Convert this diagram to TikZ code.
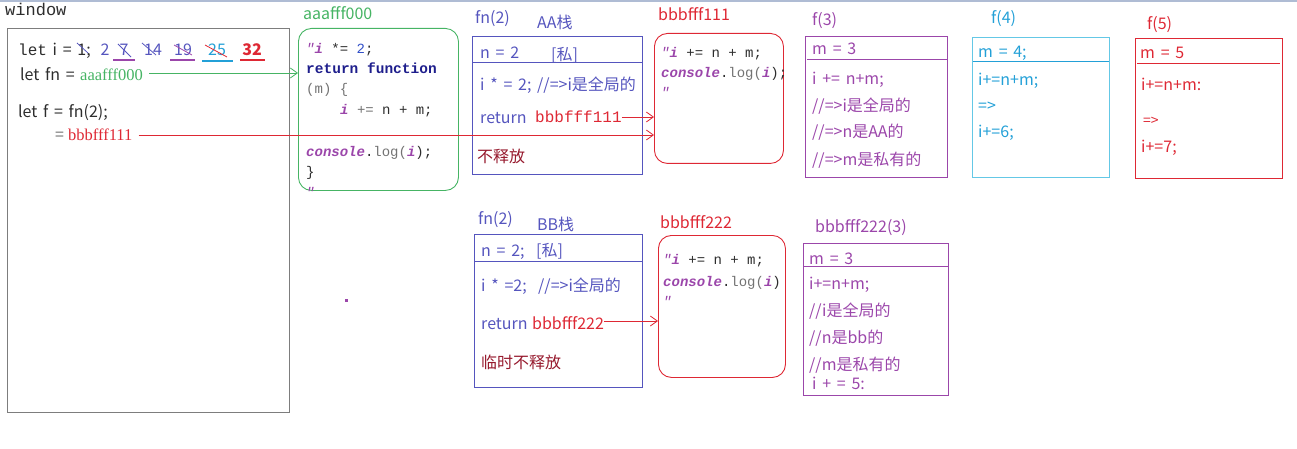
\documentclass[tikz,border=0pt]{standalone}
\usepackage{fontspec}
\setmainfont{Noto Sans CJK SC}
\newfontfamily\csans[WordSpace=1.6]{Noto Sans CJK SC}
\newfontfamily\cmono{Liberation Mono}
\newfontfamily\cser{Liberation Serif}
\usetikzlibrary{arrows.meta}
\definecolor{topline}{RGB}{175,188,212}
\definecolor{wgrey}{RGB}{125,125,125}
\definecolor{ink}{RGB}{45,45,45}
\definecolor{bv}{RGB}{85,85,190}
\definecolor{purp}{RGB}{155,70,170}
\definecolor{cyanc}{RGB}{35,160,215}
\definecolor{cyanbox}{RGB}{100,200,230}
\definecolor{redc}{RGB}{222,40,52}
\definecolor{maroon}{RGB}{150,25,45}
\definecolor{greenc}{RGB}{70,180,100}
\definecolor{navy}{RGB}{30,30,140}
\definecolor{cgrey}{RGB}{115,115,115}
\definecolor{cblue}{RGB}{50,80,200}
\tikzset{
  txt/.style={anchor=base west, inner sep=0, font=\csans\fontsize{16}{16}\selectfont},
  code/.style={anchor=base west, inner sep=0, font=\cmono\fontsize{14}{14}\selectfont, text=ink},
  num/.style={anchor=base, inner sep=0, font=\csans\fontsize{16}{16}\selectfont},
  box/.style={draw, inner sep=0, anchor=north west, line width=0.9pt},
  rbox/.style={box, rounded corners=13pt},
  arr/.style={line width=0.8pt, -{Straight Barb[length=7pt,width=10pt]}},
  strike/.style={line width=0.8pt}
}
\newcommand{\ci}{{\bfseries\itshape\color{purp}i}}
\newcommand{\cq}{{\itshape\color{purp}"}}
\begin{document}
\begin{tikzpicture}[x=1pt,y=-1pt]
\useasboundingbox (0,0) rectangle (1297,449);
\draw[topline, line width=2pt] (0,1) -- (1297,1);

% window
\node[anchor=base west, inner sep=0, font=\cmono\fontsize{17}{17}\selectfont, text=ink] (wlabel) at (5,16) {window};
\node[box, draw=wgrey, line width=1.4pt, minimum width=282pt, minimum height=384pt] (win) at (7,28) {};
\node[txt, text=ink] (leti) at (18,56) {{\cmono let} i = 1;};
\node[num, text=bv] (n2) at (105,56) {2};
\node[num, text=bv] (n7) at (124,56) {7};
\node[num, text=bv] (n14) at (153,56) {14};
\node[num, text=bv] (n19) at (183,56) {19};
\node[num, text=cyanc] (n25) at (217,56) {25};
\node[num, text=redc, font=\csans\bfseries\fontsize{16}{16}\selectfont] (n32) at (252,56) {32};
\draw[strike, bv] (77,43) -- (88,53);
\draw[strike, bv] (118,44) -- (131,57);
\draw[strike, bv] (142,43) -- (156,55);
\draw[strike, purp] (174,45) -- (192,55);
\draw[strike, redc] (205,45) -- (227,57);
\draw[purp, line width=1.6pt] (113,60) -- (135,60);
\draw[purp, line width=1.6pt] (170,60) -- (195,60);
\draw[cyanc, line width=1.6pt] (202,61) -- (233,61);
\draw[redc, line width=1.6pt] (240,60) -- (265,60);
\node[txt, text=ink] (letfn) at (20,81) {let fn =};
\node[anchor=base west, inner sep=0, font=\cser\fontsize{16.5}{16}\selectfont, text=greenc] (fnval) at (80,81) {aaafff000};
\node[txt, text=ink] (letf) at (18,118) {let f = fn(2);};
\node[txt, text=cgrey] (feq) at (55,141) {=};
\node[anchor=base west, inner sep=0, font=\cser\fontsize{16.5}{16}\selectfont, text=redc] (fval) at (68,141) {bbbfff111};

% green heap box
\node[txt, text=greenc] (glabel) at (303,20) {aaafff000};
\node[rbox, draw=greenc, minimum width=160pt, minimum height=162pt] (gbox) at (298,28) {};
\node[code] (g1) at (306,54) {\cq\ci\ *= {\color{cblue}2};};
\node[code, text=navy, font=\cmono\bfseries\fontsize{14.5}{14}\selectfont] (g2) at (306,74) {return function};
\node[code, text=cgrey] (g3) at (306,94) {(m) \{};
\node[code] (g4) at (340,115) {\ci\ {\color{cgrey}+=} n + m;};
\node[code] (g5) at (306,157) {{\bfseries\itshape\color{purp}console}.{\color{cgrey}log(}\ci);};
\node[code] (g6) at (306,177) {\}};
\node[code] (g7) at (306,197) {\cq};

% AA stack
\node[txt, text=bv] (aalab) at (475,24) {fn(2)};
\node[txt, text=bv] (aast) at (537,29) {AA栈};
\node[box, draw=bv, minimum width=170pt, minimum height=138pt] (aa) at (472,36) {};
\draw[bv, line width=0.9pt] (472,62) -- (642,62);
\node[txt, text=bv] (a1) at (480,59) {n = 2};
\node[txt, text=bv] (a1b) at (551,61) {[私]};
\node[txt, text=bv] (a2) at (480,91) {i * = 2; //=>i是全局的};
\node[txt, text=bv] (a3) at (480,124) {return};
\node[anchor=base west, inner sep=0, font=\cmono\fontsize{16}{16}\selectfont, text=redc] (ret1) at (535,123) {bbbfff111};
\node[txt, text=maroon] (a4) at (477,163) {不释放};

% bbbfff111 box
\node[txt, text=redc] (b1lab) at (658,21) {bbbfff111};
\node[rbox, draw=redc, minimum width=129pt, minimum height=130pt] (b1) at (654,33) {};
\node[code] (b11) at (661,58) {\cq\ci\ += n + m;};
\node[code] (b12) at (661,78) {{\bfseries\itshape\color{purp}console}.{\color{cgrey}log(}\ci);};
\node[code] (b13) at (661,98) {\cq};

% f(3)
\node[txt, text=purp] (f3lab) at (812,26) {f(3)};
\node[box, draw=purp, minimum width=142pt, minimum height=141pt] (f3) at (805,36) {};
\draw[purp, line width=0.9pt] (807,59) -- (947,59);
\node[txt, text=purp] (f31) at (812,55) {m = 3};
\node[txt, text=purp] (f32) at (812,85) {i += n+m;};
\node[txt, text=purp] (f33) at (812,112) {//=>i是全局的};
\node[txt, text=purp] (f34) at (812,138) {//=>n是AA的};
\node[txt, text=purp] (f35) at (812,166) {//=>m是私有的};

% f(4)
\node[txt, text=cyanc] (f4lab) at (991,24) {f(4)};
\node[box, draw=cyanbox, minimum width=137pt, minimum height=140pt] (f4) at (972,37) {};
\draw[cyanc, line width=0.9pt] (973,61) -- (1109,61);
\node[txt, text=cyanc] (f41) at (978,58) {m = 4;};
\node[txt, text=cyanc] (f42) at (978,86) {i+=n+m;};
\node[txt, text=cyanc] (f43) at (978,112) {=>};
\node[txt, text=cyanc] (f44) at (978,138) {i+=6;};

% f(5)
\node[txt, text=redc] (f5lab) at (1147,30) {f(5)};
\node[box, draw=redc, minimum width=147pt, minimum height=140pt] (f5) at (1135,38) {};
\draw[redc, line width=0.9pt] (1137,63) -- (1280,63);
\node[txt, text=redc] (f51) at (1140,59) {m = 5};
\node[txt, text=redc] (f52) at (1141,91) {i+=n+m:};
\node[txt, text=redc, font=\csans\fontsize{14}{14}\selectfont] (f53) at (1143,126) {=>};
\node[txt, text=redc] (f54) at (1141,153) {i+=7;};

% BB stack
\node[txt, text=bv] (bblab) at (478,224) {fn(2)};
\node[txt, text=bv] (bbst) at (537,230) {BB栈};
\node[box, draw=bv, minimum width=168pt, minimum height=153pt] (bb) at (474,234) {};
\draw[bv, line width=0.9pt] (474,261) -- (642,261);
\node[txt, text=bv] (bb1) at (481,256) {n = 2;\ \ [私]};
\node[txt, text=bv] (bb2) at (481,291) {i * =2;\ \ //=>i全局的};
\node[txt, text=bv] (bb3) at (481,329) {return};
\node[txt, text=redc] (ret2) at (532,329) {bbbfff222};
\node[txt, text=maroon] (bb4) at (481,368) {临时不释放};

% bbbfff222 box
\node[txt, text=redc] (b2lab) at (660,228) {bbbfff222};
\node[rbox, draw=redc, minimum width=127pt, minimum height=142pt] (b2) at (658,235) {};
\node[code] (b21) at (663,264) {\cq\ci\ += n + m;};
\node[code] (b22) at (663,286) {{\bfseries\itshape\color{purp}console}.{\color{cgrey}log(}\ci)};
\node[code] (b23) at (663,306) {\cq};

% bbbfff222(3)
\node[txt, text=purp] (b3lab) at (815,232) {bbbfff222(3)};
\node[box, draw=purp, minimum width=145pt, minimum height=152pt] (b3) at (803,243) {};
\draw[purp, line width=0.9pt] (803,266) -- (948,266);
\node[txt, text=purp] (b31) at (809,264) {m = 3};
\node[txt, text=purp] (b32) at (809,289) {i+=n+m;};
\node[txt, text=purp] (b33) at (809,316) {//i是全局的};
\node[txt, text=purp] (b34) at (809,343) {//n是bb的};
\node[txt, text=purp] (b35) at (809,370) {//m是私有的};
\node[txt, text=purp] (b36) at (812,389) {i + = 5:};

% dot
\fill[purp] (345,299) rectangle (348,302);

% connectors
\coordinate (gin) at (gbox.west |- 0,73);
\draw[arr, greenc] (fnval.east |- 0,73) ++(6,0) -- (gin);
\coordinate (b1in) at (b1.west |- 0,135);
\draw[arr, redc] (fval.east |- 0,135) ++(6,0) -- (b1in);
\coordinate (b1in2) at (b1.west |- 0,117);
\draw[arr, redc] (ret1.east |- 0,117) -- (b1in2);
\coordinate (b2in) at (b2.west |- 0,321);
\draw[arr, redc] (ret2.east |- 0,321) -- (b2in);
\end{tikzpicture}
\end{document}
